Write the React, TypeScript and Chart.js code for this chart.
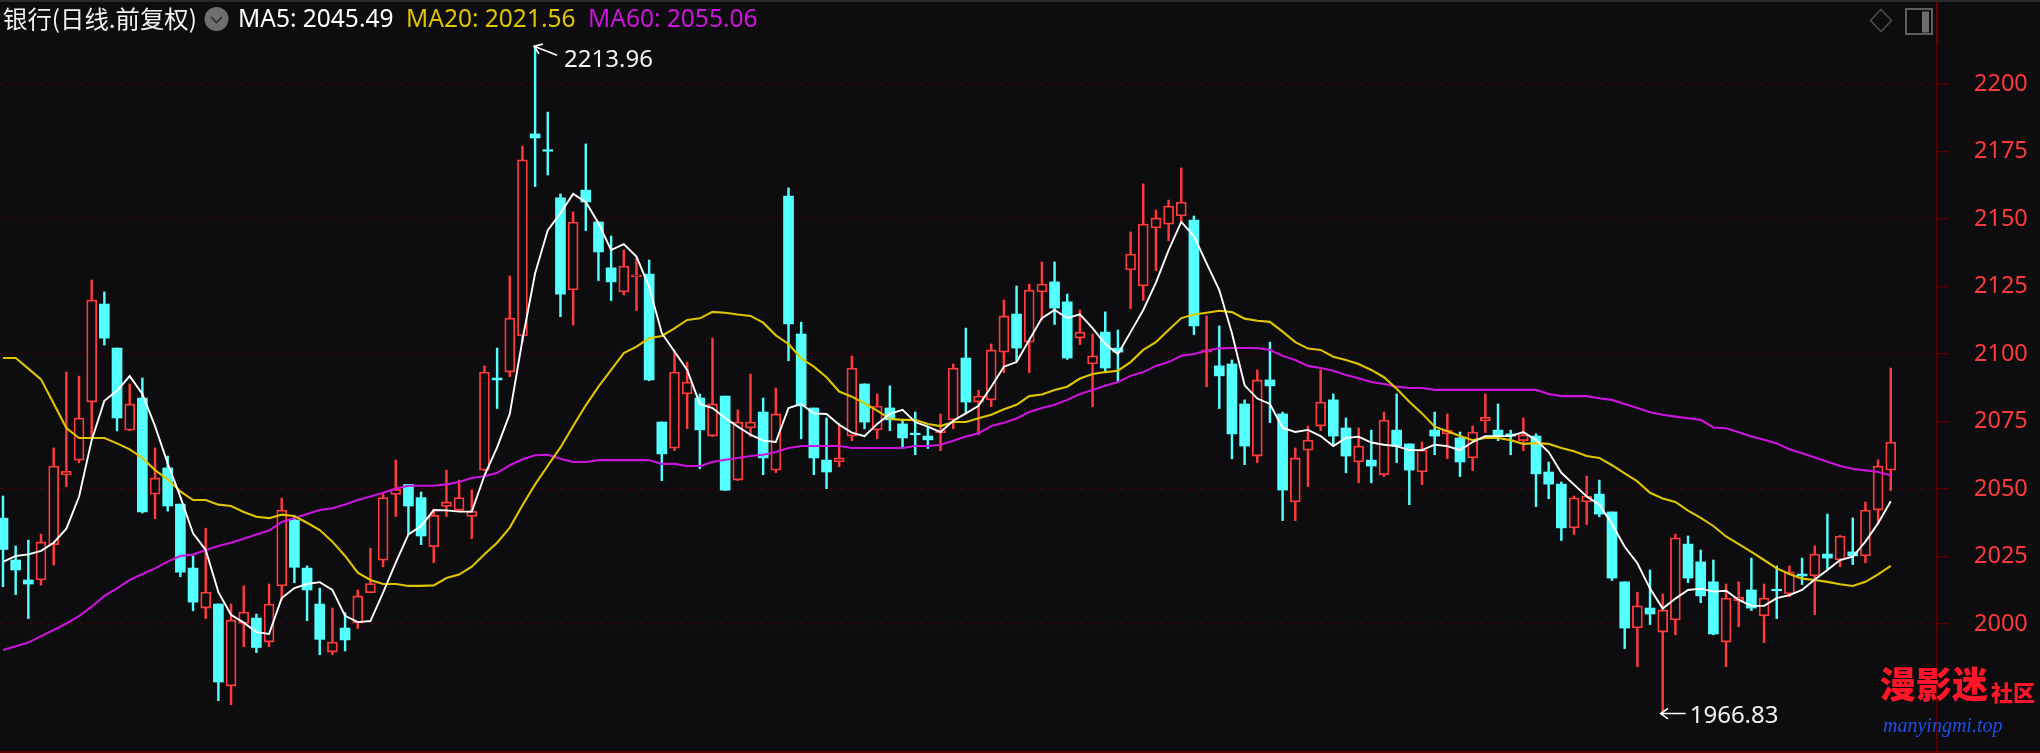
import React, { useEffect, useRef } from "react";
import { Chart, registerables } from "chart.js";

Chart.register(...registerables);

const opens = [
  2039.2,2023.7,2016.3,2016.3,2029.4,2055.3,2060.7,2082.2,2118.5,2102.2,
  2071.8,2083.7,2048.1,2057.8,2044.4,2020.7,2005.9,2007.4,1977.0,2000.2,
  2002.2,1993.3,2014.1,2038.5,2020.7,2007.4,1989.6,1998.5,2000.5,2011.6,
  2023.6,2048.0,2051.7,2046.8,2028.6,2043.5,2042.1,2039.8,2057.0,2091.1,
  2093.3,2106.7,2181.5,2175.6,2157.8,2123.7,2160.7,2148.9,2131.9,2123.0,
  2128.6,2129.6,2074.8,2065.1,2085.2,2083.7,2069.6,2084.4,2053.3,2072.6,
  2078.5,2057.0,2158.5,2107.4,2080.0,2060.7,2060.0,2069.6,2088.9,2071.9,
  2080.0,2074.1,2070.6,2069.6,2070.9,2075.6,2098.5,2082.2,2083.0,2100.7,
  2114.8,2104.4,2123.0,2126.7,2119.3,2105.9,2096.3,2108.1,2102.2,2131.1,
  2125.2,2146.7,2148.1,2151.1,2149.6,2100.7,2095.6,2096.3,2081.5,2062.2,
  2090.4,2077.8,2045.2,2064.4,2073.3,2083.0,2072.6,2060.0,2060.7,2055.3,
  2071.8,2066.7,2056.3,2071.8,2070.4,2068.9,2061.5,2075.3,2071.8,2070.4,
  2067.9,2069.6,2056.3,2051.8,2035.6,2045.2,2048.1,2041.5,2015.6,1998.5,
  2005.9,1997.0,2001.5,2029.6,2023.0,2015.6,1993.3,2008.6,2012.6,2003.0,
  2012.8,2011.1,2018.5,2017.8,2025.9,2023.7,2026.7,2025.2,2042.2,2057.0,
];

const closes = [
  2027.6,2020.0,2014.8,2030.4,2058.5,2056.5,2076.3,2120.0,2105.9,2076.3,
  2081.5,2041.5,2054.1,2043.7,2019.2,2008.1,2011.8,1978.5,2001.5,2004.4,
  1991.3,2007.4,2042.2,2021.0,2012.6,1994.3,1993.3,1994.1,2010.4,2015.0,
  2046.8,2049.9,2043.7,2032.6,2040.3,2045.2,2046.8,2041.7,2093.3,2090.4,
  2113.3,2171.9,2180.0,2175.1,2122.2,2148.9,2156.3,2137.8,2126.7,2132.6,
  2129.3,2090.4,2063.0,2093.3,2089.6,2071.9,2081.5,2049.6,2074.8,2074.8,
  2061.5,2077.8,2111.1,2080.8,2061.5,2056.3,2061.5,2094.8,2074.8,2080.7,
  2075.6,2068.9,2070.1,2068.2,2071.6,2094.8,2082.2,2084.4,2101.5,2114.1,
  2102.2,2123.7,2125.9,2117.0,2098.5,2108.1,2099.3,2094.8,2100.7,2137.0,
  2148.1,2150.4,2154.8,2156.3,2110.4,2101.5,2091.9,2070.4,2065.9,2090.4,
  2088.2,2049.6,2061.5,2068.1,2082.2,2069.6,2062.2,2065.9,2058.5,2075.5,
  2065.9,2057.0,2064.4,2069.6,2071.8,2060.0,2071.1,2076.5,2069.6,2069.6,
  2070.1,2055.6,2051.8,2035.6,2046.7,2047.4,2040.7,2017.0,1998.5,2006.7,
  2003.7,2005.2,2031.9,2017.0,2010.4,1996.3,2009.6,2009.9,2005.9,2009.6,
  2012.3,2019.3,2017.8,2025.9,2024.4,2032.6,2025.2,2042.2,2058.5,2067.4,
];

const highs = [
  2047.4,2028.9,2031.1,2033.3,2065.2,2093.3,2091.8,2127.4,2123.0,2102.2,
  2088.9,2091.1,2065.2,2062.2,2044.4,2025.2,2035.5,2007.4,2007.4,2014.1,
  2003.7,2014.8,2046.6,2040.0,2021.5,2013.3,2005.9,2004.2,2012.6,2028.1,
  2048.6,2060.7,2051.7,2048.9,2042.5,2057.0,2053.3,2049.6,2095.6,2102.2,
  2128.9,2177.0,2213.96,2189.6,2159.3,2152.6,2177.8,2148.9,2143.7,2138.5,
  2135.6,2134.8,2074.8,2100.9,2097.0,2085.2,2105.9,2084.4,2079.3,2092.6,
  2083.7,2087.4,2161.5,2111.8,2080.0,2076.3,2074.3,2099.3,2088.9,2085.2,
  2088.2,2075.6,2078.5,2073.1,2077.8,2096.3,2109.6,2086.6,2103.7,2120.0,
  2125.2,2125.9,2134.1,2134.1,2122.2,2116.3,2107.4,2115.6,2108.9,2145.2,
  2163.0,2153.3,2157.0,2168.9,2151.1,2114.1,2110.4,2097.8,2083.0,2094.1,
  2104.4,2078.5,2065.2,2073.3,2094.1,2085.2,2076.3,2072.6,2071.8,2078.5,
  2085.2,2066.7,2067.4,2078.5,2077.8,2071.1,2073.3,2085.2,2081.5,2071.8,
  2076.3,2070.4,2060.0,2052.6,2047.4,2054.8,2053.3,2041.5,2015.6,2011.8,
  2020.0,2011.1,2033.3,2032.6,2027.4,2023.7,2014.8,2015.6,2024.4,2014.8,
  2021.5,2021.5,2024.4,2028.9,2040.7,2032.8,2039.3,2045.2,2060.8,2094.8,
];

const lows = [
  2013.8,2010.9,2002.0,2014.4,2021.8,2050.9,2059.7,2069.4,2103.3,2071.5,
  2071.6,2041.1,2039.0,2041.8,2017.5,2004.9,2002.0,1971.6,1970.1,1991.6,
  1989.4,1991.6,2008.9,2015.3,2001.2,1988.6,1988.6,1990.0,1998.3,2011.6,
  2021.2,2039.8,2033.2,2029.4,2022.7,2039.8,2041.9,2031.6,2056.8,2079.8,
  2091.6,2104.4,2162.0,2166.3,2113.8,2110.7,2145.7,2127.2,2119.8,2121.9,
  2116.1,2090.1,2053.1,2064.2,2072.3,2057.5,2069.4,2049.4,2053.1,2069.4,
  2055.3,2056.1,2097.5,2068.6,2055.3,2050.1,2058.3,2067.9,2072.3,2068.6,
  2071.6,2065.4,2062.7,2065.0,2064.2,2072.3,2077.8,2070.1,2080.5,2093.1,
  2097.3,2093.1,2112.6,2110.9,2098.0,2103.5,2080.5,2093.6,2089.9,2116.8,
  2119.8,2130.9,2142.0,2148.4,2107.2,2087.9,2079.8,2061.2,2059.0,2059.8,
  2074.6,2038.3,2038.3,2050.9,2071.6,2066.3,2056.0,2052.3,2052.3,2054.6,
  2059.8,2044.2,2051.6,2062.7,2061.2,2054.6,2056.8,2070.9,2067.9,2062.7,
  2064.2,2043.5,2046.4,2030.9,2033.1,2036.8,2039.7,2016.1,1990.9,1984.2,
  1999.8,1966.83,1996.0,2015.3,2007.9,1996.0,1984.2,1999.0,2005.0,1993.1,
  2002.0,2010.1,2014.6,2003.5,2020.2,2021.2,2022.0,2022.7,2037.0,2049.4,
];

const ma5 = [
  2023.0,2025.2,2025.8,2027.1,2030.1,2035.3,2047.1,2068.1,2082.7,2086.4,
  2091.8,2085.2,2073.3,2059.5,2047.1,2033.6,2027.4,2011.8,2003.4,2000.5,
  1997.0,1996.3,2009.6,2013.3,2014.8,2015.5,2012.6,2003.0,2000.7,2001.1,
  2011.6,2022.7,2033.2,2036.3,2042.2,2042.1,2041.6,2041.6,2055.0,2065.4,
  2077.8,2105.2,2129.9,2145.9,2152.1,2159.3,2156.3,2148.4,2138.5,2140.7,
  2136.1,2124.9,2107.7,2100.9,2094.1,2081.5,2080.0,2076.3,2073.1,2070.1,
  2067.9,2067.4,2080.0,2081.5,2078.0,2077.8,2073.8,2070.9,2069.6,2074.1,
  2077.8,2079.3,2074.8,2073.1,2071.1,2075.3,2078.0,2080.8,2087.9,2095.3,
  2097.0,2105.2,2113.3,2116.3,2113.3,2114.7,2109.6,2103.7,2100.0,2108.1,
  2116.3,2126.4,2138.5,2148.9,2143.7,2133.6,2123.7,2107.7,2088.4,2083.5,
  2081.5,2072.6,2071.1,2071.9,2069.6,2065.9,2068.9,2069.4,2067.2,2066.4,
  2065.9,2064.4,2064.4,2066.4,2065.9,2064.4,2067.4,2069.6,2069.6,2069.6,
  2071.1,2068.1,2063.7,2056.0,2051.6,2047.2,2044.2,2037.0,2028.6,2022.5,
  2013.1,2005.7,2009.4,2012.6,2013.1,2012.0,2012.3,2008.9,2006.7,2006.7,
  2009.6,2010.7,2012.6,2016.5,2020.0,2023.7,2024.9,2030.5,2037.3,2045.49,
];

const ma20 = [
  2098.5,2098.5,2094.6,2090.6,2081.7,2072.6,2068.9,2068.9,2068.9,2066.9,
  2064.7,2061.5,2057.0,2053.6,2049.1,2045.9,2045.9,2044.2,2043.7,2041.5,
  2039.7,2039.2,2040.5,2040.0,2037.5,2034.8,2030.5,2025.2,2019.0,2016.3,
  2014.8,2014.8,2014.1,2014.1,2014.3,2017.0,2018.3,2021.2,2025.8,2030.1,
  2035.7,2044.0,2051.7,2058.6,2065.4,2073.3,2081.0,2087.9,2094.1,2100.3,
  2102.7,2105.8,2106.7,2109.5,2112.6,2113.2,2115.6,2115.3,2114.6,2114.1,
  2111.6,2106.9,2103.7,2098.4,2095.3,2091.4,2086.1,2084.2,2081.7,2079.0,
  2076.0,2075.6,2075.6,2074.1,2073.3,2074.8,2074.8,2076.2,2077.5,2079.5,
  2081.2,2084.4,2085.0,2086.7,2087.9,2090.9,2092.6,2093.3,2093.8,2097.0,
  2101.5,2104.4,2108.9,2113.3,2114.6,2115.3,2116.0,2115.5,2113.1,2112.3,
  2111.9,2108.3,2104.4,2102.0,2101.5,2099.0,2097.8,2096.3,2094.1,2091.4,
  2087.1,2082.3,2078.0,2073.1,2071.4,2069.6,2068.1,2068.9,2068.9,2068.1,
  2066.7,2067.0,2066.7,2065.2,2064.0,2062.2,2061.5,2058.8,2055.8,2052.8,
  2048.6,2046.5,2045.2,2042.0,2039.3,2036.3,2032.4,2029.6,2026.7,2023.7,
  2020.6,2018.5,2016.8,2016.3,2015.6,2014.7,2014.1,2015.6,2018.4,2021.56,
];

const ma60 = [
  1990.4,1991.8,1993.1,1995.5,1997.8,2000.2,2002.9,2006.4,2010.4,2013.2,
  2016.3,2018.5,2020.6,2023.1,2025.2,2025.7,2027.4,2028.9,2030.1,2031.6,
  2033.1,2034.6,2037.8,2039.2,2040.7,2042.2,2042.9,2044.3,2045.9,2047.2,
  2048.6,2050.2,2051.2,2051.2,2051.2,2051.7,2052.6,2054.1,2054.7,2056.0,
  2058.8,2061.0,2062.5,2062.7,2061.2,2060.0,2060.0,2060.7,2060.7,2060.7,
  2060.7,2060.7,2059.3,2059.3,2058.5,2058.5,2060.0,2060.8,2061.5,2062.2,
  2062.7,2063.7,2065.2,2065.9,2065.9,2065.9,2065.9,2065.2,2065.2,2065.2,
  2065.2,2065.2,2065.9,2065.9,2066.4,2067.9,2069.4,2070.6,2073.3,2074.5,
  2076.1,2078.5,2080.0,2081.2,2083.0,2085.2,2086.7,2088.2,2089.6,2091.9,
  2093.3,2095.6,2097.0,2099.3,2100.0,2101.2,2102.1,2102.2,2102.2,2102.2,
  2101.5,2099.3,2097.8,2095.6,2094.8,2093.8,2092.2,2091.0,2089.6,2088.9,
  2087.9,2087.4,2087.4,2086.7,2086.7,2086.7,2086.7,2086.7,2086.7,2086.7,
  2086.7,2086.7,2085.2,2084.4,2084.4,2084.4,2083.6,2083.0,2081.5,2080.0,
  2078.4,2077.5,2076.8,2076.2,2075.6,2072.8,2072.5,2071.0,2069.4,2068.2,
  2066.9,2064.7,2063.2,2061.7,2060.1,2058.5,2057.5,2056.9,2056.3,2055.06,
];

const yTicks = [2000, 2025, 2050, 2075, 2100, 2125, 2150, 2175, 2200];

const titleText = "银行(日线.前复权)";
const legendLabels = ["MA5: 2045.49", "MA20: 2021.56", "MA60: 2055.06"];
const maxLabel = "2213.96";
const minLabel = "1966.83";
const watermarkMain = "漫影迷";
const watermarkSmall = "社区";
const watermarkSite = "manyingmi.top";

const BG = "#0D0D10";
const CYAN = "#54FFFF";
const RED = "#FF3A3A";
const YELLOW = "#E0C400";
const MAGENTA = "#CC14DC";
const AXIS = "#5C0000";
const GRID = "#470606";
const LATIN = '"Noto Sans", sans-serif';
const CJK = '"Noto Sans CJK SC", sans-serif';

const isUp = (i: number) => closes[i] >= opens[i];

const drawArrow = (ctx: any, tx: number, ty: number, fx: number, fy: number) => {
  const a = Math.atan2(fy - ty, fx - tx);
  ctx.strokeStyle = "#FFFFFF";
  ctx.lineWidth = 1.6;
  ctx.beginPath();
  ctx.moveTo(fx, fy);
  ctx.lineTo(tx, ty);
  ctx.moveTo(tx + 9 * Math.cos(a - 0.62), ty + 9 * Math.sin(a - 0.62));
  ctx.lineTo(tx, ty);
  ctx.lineTo(tx + 9 * Math.cos(a + 0.62), ty + 9 * Math.sin(a + 0.62));
  ctx.stroke();
};

const decorations = {
  id: "decorations",
  beforeDraw(chart: any) {
    const { ctx, width, height } = chart;
    ctx.save();
    ctx.fillStyle = BG;
    ctx.fillRect(0, 0, width, height);
    ctx.restore();
  },
  afterDraw(chart: any) {
    const { ctx, width, height, scales } = chart;
    const { x, y } = scales;
    ctx.save();

    ctx.fillStyle = "#2A2A2D";
    ctx.fillRect(0, 0, width, 2);
    ctx.fillStyle = AXIS;
    ctx.fillRect(0, height - 2, width, 2);
    ctx.strokeStyle = "#7A0000";
    ctx.lineWidth = 1.3;
    ctx.beginPath();
    ctx.moveTo(1937, 2);
    ctx.lineTo(1937, 45);
    ctx.stroke();

    ctx.textBaseline = "alphabetic";
    ctx.textAlign = "left";
    ctx.fillStyle = "#F2F2F2";
    ctx.font = `24.4px ${CJK}`;
    ctx.fillText(titleText, 3, 28);

    ctx.fillStyle = "#6E6E6E";
    ctx.beginPath();
    ctx.arc(216.5, 19, 12, 0, Math.PI * 2);
    ctx.fill();
    ctx.strokeStyle = "#2E2E2E";
    ctx.lineWidth = 1.6;
    ctx.beginPath();
    ctx.moveTo(211, 17);
    ctx.lineTo(216.5, 22.5);
    ctx.lineTo(222, 17);
    ctx.stroke();

    ctx.font = `24.5px ${LATIN}`;
    ctx.fillStyle = "#FFFFFF";
    ctx.fillText(legendLabels[0], 238, 27);
    ctx.fillStyle = YELLOW;
    ctx.fillText(legendLabels[1], 406, 27);
    ctx.fillStyle = MAGENTA;
    ctx.fillText(legendLabels[2], 588, 27);

    ctx.strokeStyle = "#4A4A4A";
    ctx.lineWidth = 1.6;
    ctx.beginPath();
    ctx.moveTo(1881, 9.5);
    ctx.lineTo(1891.5, 20.5);
    ctx.lineTo(1881, 31.5);
    ctx.lineTo(1870.5, 20.5);
    ctx.closePath();
    ctx.stroke();
    ctx.strokeStyle = "#5E5E5E";
    ctx.lineWidth = 2;
    ctx.strokeRect(1906, 9, 26, 25);
    ctx.fillStyle = "#6E6E6E";
    ctx.fillRect(1922, 11.5, 7, 21);

    const hiX = x.getPixelForValue(highs.indexOf(Math.max(...highs)));
    const hiY = y.getPixelForValue(Math.max(...highs));
    drawArrow(ctx, hiX - 1, hiY, hiX + 22, hiY + 9);
    const loX = x.getPixelForValue(lows.indexOf(Math.min(...lows)));
    const loY = y.getPixelForValue(Math.min(...lows));
    drawArrow(ctx, loX - 2, loY, loX + 23, loY);

    ctx.fillStyle = "#F2F2F2";
    ctx.font = `24px ${LATIN}`;
    ctx.fillText(maxLabel, hiX + 29, hiY + 21);
    ctx.fillText(minLabel, loX + 27, loY + 9);

    ctx.fillStyle = "#FF1428";
    ctx.font = `900 36px ${CJK}`;
    ctx.fillText(watermarkMain, 1880, 698);
    ctx.font = `900 22px ${CJK}`;
    ctx.fillText(watermarkSmall, 1991, 701);
    ctx.fillStyle = "#1E50E6";
    ctx.font = 'italic 20px "Liberation Serif", serif';
    ctx.fillText(watermarkSite, 1883, 732);
    ctx.restore();
  },
};

export default function App() {
  const ref = useRef<HTMLCanvasElement | null>(null);

  useEffect(() => {
    document.body.style.margin = "0";
    document.body.style.background = BG;
    if (!ref.current) return;
    const at = (arr: number[]) => arr.map((v, i) => ({ x: i, y: v }));
    const chart = new Chart(ref.current, {
      type: "bar",
      plugins: [decorations],
      data: {
        datasets: [
          {
            type: "line",
            label: "MA5",
            data: at(ma5),
            borderColor: "#FFFFFF",
            borderWidth: 1.9,
            pointRadius: 0,
            tension: 0,
            order: 1,
          },
          {
            type: "line",
            label: "MA20",
            data: at(ma20),
            borderColor: YELLOW,
            borderWidth: 2.1,
            pointRadius: 0,
            tension: 0,
            order: 2,
          },
          {
            type: "line",
            label: "MA60",
            data: at(ma60),
            borderColor: MAGENTA,
            borderWidth: 2.1,
            pointRadius: 0,
            tension: 0,
            order: 3,
          },
          {
            label: "body",
            data: opens.map((o, i) => ({ x: i, y: [o, closes[i]] })),
            backgroundColor: opens.map((_, i) => (isUp(i) ? BG : CYAN)),
            borderColor: opens.map((_, i) => (isUp(i) ? RED : CYAN)),
            borderWidth: opens.map((_, i) => (isUp(i) ? 1.8 : 0)),
            borderSkipped: false,
            barThickness: 10,
            minBarLength: 1.5,
            grouped: false,
            order: 4,
          },
          {
            label: "wick",
            data: lows.map((l, i) => ({ x: i, y: [l, highs[i]] })),
            backgroundColor: opens.map((_, i) => (isUp(i) ? RED : CYAN)),
            borderWidth: 0,
            barThickness: 1.8,
            grouped: false,
            order: 5,
          },
        ],
      },
      options: {
        responsive: false,
        animation: false,
        devicePixelRatio: 1,
        layout: { padding: { top: 3, bottom: 2, left: 0, right: 0 } },
        plugins: { legend: { display: false }, tooltip: { enabled: false } },
        scales: {
          x: {
            type: "linear",
            display: false,
            offset: false,
            min: -0.237,
            max: 152.65,
            grid: { display: false },
          },
          y: {
            type: "linear",
            position: "right",
            min: 1952.96,
            max: 2230,
            afterFit: (s: any) => {
              s.width = 103;
              s.paddingTop = 0;
              s.paddingBottom = 0;
            },
            afterBuildTicks: (s: any) => {
              s.ticks = yTicks.map((value) => ({ value }));
            },
            border: { display: true, color: AXIS, width: 1.3, dash: [3, 7] },
            grid: {
              color: (c: any) => (c.tick && c.tick.value % 50 === 0 ? GRID : "rgba(0,0,0,0)"),
              tickColor: AXIS,
              tickLength: 12,
              tickWidth: 1.3,
              lineWidth: 1.3,
            },
            ticks: {
              color: RED,
              padding: 25,
              autoSkip: false,
              callback: (v: any) => String(v),
              font: { family: '"Noto Sans", sans-serif', size: 23.5 },
            },
          },
        },
      },
    } as any);
    return () => chart.destroy();
  }, []);

  return <canvas ref={ref} width={2040} height={753} style={{ display: "block", width: 2040, height: 753 }} />;
}
